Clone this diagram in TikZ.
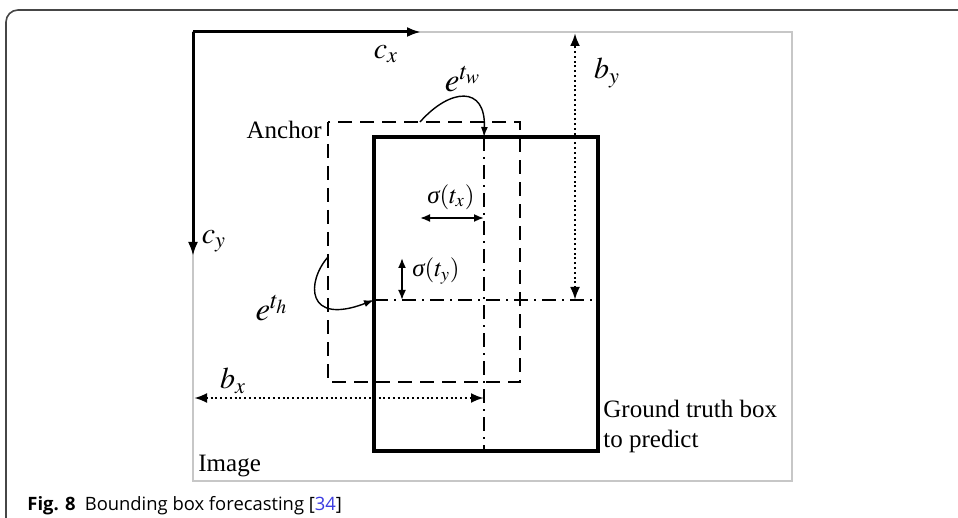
\documentclass[tikz,border=0pt]{standalone}
\usepackage{amsmath,amssymb}
\usepackage{mathptmx}
\usepackage{fontspec}
\setmainfont{Liberation Serif}
\newfontfamily\capfont{Open Sans}
\usetikzlibrary{arrows.meta,calc,positioning}
\definecolor{citeblue}{RGB}{60,60,225}
\definecolor{framegray}{RGB}{70,70,70}
\newcommand{\sig}{\mbox{\itshape σ}}

\begin{document}
\begin{tikzpicture}[x=0.5pt,y=-0.5pt,
    every node/.style={font=\fontsize{12.5}{15}\selectfont,inner sep=0pt},
    mathlbl/.style={font=\fontsize{15}{18}\selectfont},
    explbl/.style={font=\fontsize{16.5}{20}\selectfont},
    axis/.style={line width=1.5pt,-{Latex[length=7pt,width=5pt]}},
    gtbox/.style={line width=1.7pt},
    anchorbox/.style={line width=1.1pt,dash pattern=on 7pt off 4pt},
    center/.style={line width=1pt,dash pattern=on 7pt off 3pt on 1pt off 3pt},
    offset/.style={line width=0.9pt,{Latex[length=5pt,width=4pt]}-{Latex[length=5pt,width=4pt]}},
    dist/.style={line width=1.4pt,dash pattern=on 1pt off 1.4pt,{Latex[length=6.5pt,width=5pt]}-{Latex[length=6.5pt,width=5pt]}},
    scalearrow/.style={line width=0.7pt,-{Latex[length=5pt,width=3.5pt]}}]
    \useasboundingbox (0,0) rectangle (958,518);
    % Rahmen der Abbildung
    \draw[framegray,line width=0.8pt,rounded corners=6pt] (6,518) -- (6,10) -- (958,10);
    % Bildfläche
    \draw[black!22,line width=1pt] (193,32) rectangle (792,481);
    \node[anchor=west] (image) at (198,466) {Image};
    % Koordinatenachsen
    \coordinate (O) at (193,32);
    \coordinate (cxend) at (421,32);
    \coordinate (cyend) at (193,256);
    \draw[axis] (O) -- (cxend);
    \draw[axis] (O) -- (cyend);
    \node[mathlbl] (cx) at (386,54) {$c_x$};
    \node[mathlbl] (cy) at (214,241) {$c_y$};
    % Anker und Zielbox
    \draw[anchorbox] (328,122) rectangle (520,382);
    \node[anchor=east] (anchor) at (322,130) {Anchor};
    \draw[gtbox] (374,137) rectangle (598,451);
    \node[anchor=west,align=left] (gt) at (603,426) {Ground truth box\\to predict};
    % Mittellinien
    \coordinate (ctop) at (484,137);
    \coordinate (cbot) at (484,451);
    \coordinate (cleft) at (374,300);
    \coordinate (cright) at (598,300);
    \draw[center] (ctop) -- (cbot);
    \draw[center] (cleft) -- (cright);
    % Abstände b_x, b_y
    \coordinate (bxl) at (194,398);
    \coordinate (bxr) at (484,398);
    \coordinate (byt) at (575,33);
    \coordinate (byb) at (575,300);
    \draw[dist] (bxl) -- (bxr);
    \draw[dist] (byb) -- (byt);
    \node[mathlbl] (bx) at (233,381) {$b_x$};
    \node[mathlbl] (by) at (607,73) {$b_y$};
    % Versatz sigma(t_x), sigma(t_y)
    \coordinate (sxl) at (420,218);
    \coordinate (sxr) at (484,218);
    \coordinate (syt) at (402,258);
    \coordinate (syb) at (402,300);
    \draw[offset] (sxl) -- (sxr);
    \draw[offset] (syt) -- (syb);
    \node (sx) at (451,197) {$\sig(t_x)$};
    \node[anchor=west] (sy) at (412,271) {$\sig(t_y)$};
    % Skalierung e^{t_w}, e^{t_h}
    \coordinate (tw0) at (420,122);
    \coordinate (th0) at (328,257);
    \draw[scalearrow] (tw0) .. controls (450,88) and (486,85) .. (ctop);
    \draw[scalearrow] (th0) .. controls (306,282) and (306,326) .. (cleft);
    \node[explbl] (ew) at (463,79) {$e^{t_w}$};
    \node[explbl] (eh) at (272,308) {$e^{t_h}$};
    % Bildunterschrift
    \node[anchor=base west,font=\capfont\fontsize{9.2}{11}\selectfont] (caption) at (27,510)
      {\textbf{Fig. 8}\enspace Bounding box forecasting [{\color{citeblue}34}]};
  \end{tikzpicture}
\end{document}
